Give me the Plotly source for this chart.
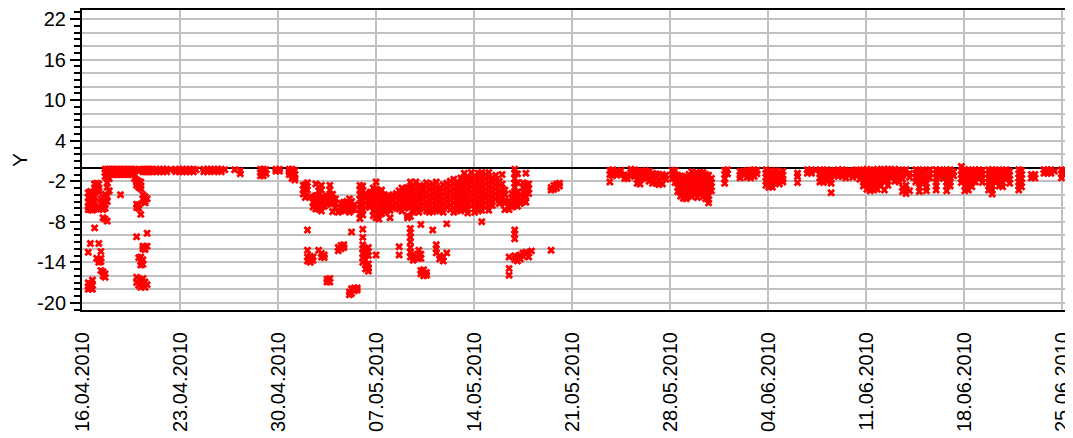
import pandas as pd
import plotly.graph_objects as go

START = "2010-04-16"

# Observations grouped by time column: (days since 16.04.2010, [Y values])
april_cols = [
    (0.45, [-3.7, -4.4, -5.1, -5.8, -6.2, -12.5, -17.0, -17.6, -18.0]),
    (0.6, [-3.5, -4.2, -4.9, -5.6, -6.2, -11.2, -17.2, -17.8]),
    (0.75, [-3.6, -4.3, -5.0, -5.7, -6.3, -16.6, -17.4, -18.0]),
    (0.9, [-2.4, -3.0, -3.6, -4.3, -5.0, -5.7, -6.1, -8.9]),
    (1.05, [-2.3, -2.9, -3.4, -6.1, -13.4]),
    (1.2, [-2.4, -3.0, -3.4, -5.9, -11.2, -13.6, -14.0]),
    (1.35, [-4.6, -5.3, -12.4, -13.4, -13.9, -15.2]),
    (1.5, [-4.3, -5.0, -5.6, -6.2, -7.4, -15.4, -16.0]),
    (1.65, [-0.2, -0.7, -1.3, -3.9, -4.8, -5.4, -6.0, -7.6, -15.7, -16.2]),
    (1.8, [-0.2, -0.6, -1.0, -1.6, -2.2, -2.9, -4.2, -5.0, -7.9]),
    (1.95, [-0.2, -0.6, -1.0, -1.6, -3.4]),
    (2.15, [-0.2, -0.6, -1.0]),
    (2.35, [-0.2, -0.6, -1.0]),
    (2.55, [-0.2, -0.6, -1.0]),
    (2.75, [-0.2, -0.6, -1.0, -4.0]),
    (2.95, [-0.2, -0.6, -1.0]),
    (3.15, [-0.2, -0.6, -1.0]),
    (3.35, [-0.2, -0.6, -1.0]),
    (3.55, [-0.2, -0.6, -1.0]),
    (3.75, [-0.2, -0.6, -1.0, -1.6]),
    (3.9, [-0.3, -1.8, -2.2, -2.6, -5.4, -5.9, -10.2, -16.2, -17.0]),
    (4.05, [-0.3, -2.0, -2.5, -2.9, -5.5, -6.0, -13.3, -16.5, -17.4]),
    (4.2, [-0.3, -2.1, -2.7, -3.1, -6.9, -13.2, -13.9, -14.4, -16.9, -17.7]),
    (4.35, [-0.2, -0.6, -4.0, -4.6, -11.6, -12.0, -13.6, -14.3, -16.4, -17.5]),
    (4.5, [-0.2, -0.6, -4.3, -5.0, -5.2, -11.7, -12.1, -16.9, -17.7]),
    (4.65, [-0.2, -0.6, -4.6, -9.7, -11.6, -17.3]),
    (4.85, [-0.2, -0.6]),
    (5.05, [-0.2, -0.6]),
    (5.3, [-0.2, -0.6]),
    (5.55, [-0.2, -0.6]),
    (5.8, [-0.2, -0.6]),
    (6.05, [-0.2, -0.6]),
    (6.3, [-0.3]),
    (6.7, [-0.2, -0.6]),
    (6.95, [-0.2, -0.6]),
    (7.2, [-0.2, -0.6]),
    (7.45, [-0.2, -0.6]),
    (7.7, [-0.2, -0.6]),
    (7.95, [-0.2, -0.6]),
    (8.15, [-0.3]),
    (8.7, [-0.2, -0.6]),
    (8.95, [-0.2, -0.6]),
    (9.2, [-0.2, -0.5]),
    (9.45, [-0.2, -0.6]),
    (9.7, [-0.2, -0.5]),
    (9.95, [-0.2, -0.6]),
    (10.2, [-0.3]),
    (10.9, [-0.3]),
    (11.3, [-0.4, -0.9]),
    (12.75, [-0.2, -0.7, -1.2]),
    (12.95, [-0.2, -0.7, -1.2]),
    (13.15, [-0.3, -0.9]),
    (13.85, [-0.2, -0.5]),
    (14.1, [-0.2, -0.5]),
    (14.8, [-0.2, -0.6, -1.0]),
    (15.0, [-0.2, -0.6, -1.1, -1.6]),
    (15.2, [-0.4, -1.0, -1.5, -1.8]),
]

may_cols = [
    (15.8, [-2.6, -3.2, -3.9]),
    (15.95, [-2.5, -3.0, -3.7, -4.4]),
    (16.1, [-2.2, -3.3, -9.2, -12.2, -13.2, -13.8]),
    (16.3, [-4.3, -13.1, -13.7, -14.0]),
    (16.5, [-4.4, -5.1, -5.8, -13.2, -13.7]),
    (16.7, [-2.4, -4.1, -4.8, -5.5, -6.1]),
    (16.9, [-3.4, -4.2, -4.9, -5.5, -6.1, -12.2]),
    (17.1, [-2.6, -3.3, -4.4, -5.1, -5.8, -6.4, -12.7, -13.2]),
    (17.3, [-4.4, -5.1, -5.7, -12.9, -13.3]),
    (17.5, [-4.2, -4.8, -5.4, -16.5, -16.9]),
    (17.7, [-2.6, -3.3, -4.1, -4.7, -5.3, -16.4, -16.9]),
    (17.9, [-3.9, -4.6, -5.2, -6.5]),
    (18.1, [-4.6, -5.2, -5.9]),
    (18.3, [-6.6, -11.8, -12.3]),
    (18.5, [-5.3, -5.9, -6.4, -11.5, -12.0]),
    (18.7, [-5.1, -5.7, -6.3, -11.4, -11.8]),
    (18.9, [-5.0, -5.6, -6.2]),
    (19.1, [-4.6, -5.3, -6.0, -6.6, -18.4, -18.8]),
    (19.25, [-5.0, -5.7, -6.3, -9.5, -17.9, -18.6]),
    (19.45, [-5.5, -6.2, -17.8, -18.2]),
    (19.65, [-17.8, -18.1]),
    (19.85, [-2.6, -3.3, -4.0, -4.7, -5.4, -6.1, -6.8, -7.5]),
    (20.05, [-2.7, -3.4, -4.1, -4.8, -5.5, -6.2, -7.0, -9.1, -10.3, -11.4, -12.0, -12.7, -13.3, -14.0]),
    (20.25, [-3.8, -4.5, -5.2, -5.9, -12.2, -12.9, -13.6, -14.3, -15.0]),
    (20.45, [-11.8, -12.4, -13.0, -14.2, -14.9, -15.3]),
    (20.6, [-3.6, -4.3, -5.0, -5.7]),
    (20.8, [-3.0, -3.6, -4.3, -5.0, -5.7, -6.4, -7.1]),
    (21.0, [-2.1, -3.2, -3.9, -4.6, -5.3, -6.0, -6.7, -7.4, -12.9]),
    (21.2, [-3.5, -4.2, -4.9, -5.6, -6.3, -7.0, -7.6]),
    (21.4, [-3.3, -4.0, -4.7, -5.4, -6.1, -6.8]),
    (21.6, [-4.0, -4.7, -5.4, -6.1, -6.6]),
    (21.8, [-4.2, -4.9, -5.6, -6.3]),
    (22.0, [-4.3, -5.0, -5.7, -6.3, -7.4]),
    (22.2, [-4.0, -4.7, -5.4, -6.0]),
    (22.45, [-3.8, -4.5, -5.2, -5.9]),
    (22.65, [-3.4, -4.1, -4.8, -5.5, -6.1, -11.7, -12.9]),
    (22.85, [-3.0, -3.7, -4.4, -5.1, -5.8, -6.4]),
    (23.05, [-3.2, -3.9, -4.6, -5.3, -6.0]),
    (23.25, [-2.9, -3.6, -4.3, -5.0, -5.7, -7.1, -7.4]),
    (23.45, [-2.1, -3.0, -3.7, -4.4, -5.1, -5.8, -7.2, -9.0, -9.6, -10.3, -11.0, -11.8, -12.5, -13.2]),
    (23.65, [-2.8, -3.5, -4.2, -4.9, -5.6, -6.2, -6.6, -12.8, -13.3, -13.7]),
    (23.85, [-2.1, -3.3, -4.0, -4.7, -5.4, -6.1]),
    (24.05, [-3.0, -3.7, -4.4, -5.1, -5.8, -6.6, -12.2, -12.8, -13.4]),
    (24.2, [-2.7, -3.5, -4.3, -5.0, -5.8, -8.4, -12.8, -13.4, -15.2, -15.7]),
    (24.4, [-2.6, -3.3, -4.0, -4.7, -5.4, -6.1, -15.1, -15.6, -16.0]),
    (24.6, [-2.2, -2.9, -3.6, -4.3, -5.0, -5.7, -6.4, -15.5, -15.9]),
    (24.8, [-2.6, -3.3, -4.0, -4.7, -5.4, -6.1, -6.6]),
    (25.05, [-2.4, -3.1, -3.8, -4.5, -5.2, -5.9, -6.5, -9.2]),
    (25.3, [-2.1, -2.8, -3.5, -4.2, -4.9, -5.6, -6.3, -11.4, -12.0, -12.6]),
    (25.55, [-2.9, -3.6, -4.3, -5.0, -5.7, -6.4, -13.0, -13.5]),
    (25.8, [-2.5, -3.2, -3.9, -4.6, -5.3, -6.0, -6.6, -13.2, -13.8]),
    (26.05, [-2.3, -3.0, -3.7, -4.4, -5.1, -5.8, -8.3, -12.6]),
    (26.3, [-2.0, -2.7, -3.4, -4.1, -4.8, -5.5, -6.2]),
    (26.55, [-1.7, -2.4, -3.1, -3.8, -4.5, -5.2, -5.9, -6.6]),
    (26.8, [-2.1, -2.8, -3.5, -4.2, -4.9, -5.6, -6.3]),
    (27.05, [-1.5, -2.2, -2.9, -3.6, -4.3, -5.0, -5.7, -6.4]),
    (27.3, [-0.8, -1.4, -2.1, -2.8, -3.5, -4.2, -4.9, -5.6, -6.2]),
    (27.55, [-1.3, -2.0, -2.7, -3.4, -4.1, -4.8, -5.5, -6.2, -6.7]),
    (27.8, [-0.7, -1.4, -2.1, -2.8, -3.5, -4.2, -4.9, -5.6]),
    (28.05, [-1.2, -1.9, -2.6, -3.3, -4.0, -4.7, -5.4, -6.1, -6.6]),
    (28.3, [-0.8, -1.5, -2.2, -2.9, -3.6, -4.3, -5.0, -5.7, -6.4]),
    (28.55, [-0.7, -1.4, -2.1, -2.8, -3.5, -4.2, -4.9, -5.6, -6.3, -8.0]),
    (28.8, [-1.0, -1.7, -2.4, -3.1, -3.8, -4.5, -5.2, -5.9]),
    (29.05, [-0.7, -1.4, -2.1, -2.8, -3.5, -4.2, -4.9, -5.6, -6.3]),
    (29.3, [-1.5, -2.2, -2.9, -3.6, -4.3, -5.0, -5.6]),
    (29.55, [-1.1, -1.8, -2.5, -3.2, -3.9, -4.6]),
    (29.8, [-2.0, -2.7, -3.4, -4.1, -4.8, -5.3]),
    (30.0, [-1.0, -2.4, -3.1, -3.8, -4.4, -4.9]),
    (30.2, [-3.3, -4.0, -4.8, -5.3, -6.2]),
    (30.5, [-4.9, -5.6, -6.2, -13.2, -14.9, -15.9]),
    (30.7, [-3.8, -4.5, -5.2, -5.8]),
    (30.9, [-0.2, -0.8, -1.6, -2.3, -2.9, -3.6, -4.3, -5.0, -5.6, -9.2, -9.8, -10.5, -13.0, -13.6]),
    (31.1, [-0.9, -2.2, -3.6, -4.3, -5.0, -5.7, -13.2, -13.8]),
    (31.3, [-4.0, -4.7, -5.3, -12.9, -13.5]),
    (31.5, [-2.2, -2.9, -3.6, -4.3, -5.0, -12.6, -13.1]),
    (31.7, [-0.8, -2.4, -3.1, -3.8, -4.3, -5.1, -12.5]),
    (31.9, [-2.4, -3.1, -3.8, -12.6, -13.2]),
    (32.1, [-12.3]),
    (33.5, [-2.9, -3.3, -12.2]),
    (33.7, [-2.6, -3.2]),
    (33.9, [-2.4, -3.0]),
    (34.1, [-2.3, -2.7]),
]

june_cols = [
    (37.7, [-0.4, -1.0, -2.1]),
    (37.9, [-0.3, -0.9, -1.2]),
    (38.2, [-0.5, -1.1]),
    (38.5, [-0.4, -1.0]),
    (38.75, [-1.1, -1.6]),
    (38.95, [-1.1, -1.6]),
    (39.2, [-0.2, -0.7, -1.2]),
    (39.45, [-0.3, -0.8, -1.3]),
    (39.65, [-0.5, -1.1, -1.7, -2.3]),
    (39.85, [-0.6, -1.2, -1.8, -2.4]),
    (40.05, [-0.5, -1.1, -1.6]),
    (40.25, [-0.4, -0.9, -1.4]),
    (40.5, [-0.5, -1.0, -1.5, -2.0]),
    (40.75, [-0.8, -1.3, -1.8, -2.3]),
    (41.0, [-0.9, -1.5, -2.3]),
    (41.2, [-1.0, -1.8, -2.5]),
    (41.45, [-1.0, -1.5, -2.4]),
    (41.7, [-1.1, -1.7]),
    (42.15, [-0.4, -1.0, -1.6]),
    (42.35, [-0.4, -1.0, -1.6, -2.2]),
    (42.55, [-1.1, -1.7, -2.3, -2.9, -3.5]),
    (42.75, [-1.2, -1.8, -2.4, -3.0, -3.6, -4.2]),
    (42.95, [-1.5, -2.1, -2.7, -3.3, -3.9, -4.5]),
    (43.15, [-1.3, -1.9, -2.5, -3.1, -3.7, -4.3, -4.6]),
    (43.35, [-1.0, -1.6, -2.2, -2.8, -3.4, -4.0]),
    (43.55, [-0.6, -1.2, -1.8, -2.4, -3.0, -3.6, -4.3]),
    (43.75, [-0.9, -1.5, -2.1, -2.7, -3.3, -3.9]),
    (43.95, [-0.8, -1.4, -2.0, -2.6, -3.2, -3.8, -4.4]),
    (44.15, [-0.7, -1.3, -1.9, -2.5, -3.1, -3.7]),
    (44.35, [-0.7, -1.3, -1.9, -2.5, -3.1, -3.7, -4.3]),
    (44.55, [-1.0, -1.6, -2.2, -2.8, -3.4, -4.0, -4.6]),
    (44.75, [-1.1, -1.7, -2.3, -2.9, -3.5, -4.1, -4.7, -5.2]),
    (44.95, [-1.6, -2.2, -2.8, -3.4]),
    (45.9, [-0.4, -1.0, -1.6, -2.3]),
    (46.1, [-0.3, -0.9]),
    (47.0, [-0.5, -1.1, -1.5]),
    (47.25, [-0.5, -1.0]),
    (47.5, [-0.4, -0.9, -1.4]),
    (47.75, [-0.4, -1.0, -1.5]),
    (48.0, [-0.3, -0.8, -1.3]),
    (48.2, [-0.4, -0.9]),
    (48.85, [-0.3, -0.8, -1.4, -2.0, -2.6]),
    (49.05, [-0.5, -1.1, -1.7, -2.3, -2.9]),
    (49.3, [-0.6, -1.2, -1.8, -2.4, -2.9]),
    (49.55, [-0.4, -1.0, -1.6, -2.2]),
    (49.8, [-0.7, -1.3, -1.9, -2.4]),
    (50.05, [-0.5, -1.1, -1.7, -2.1]),
    (51.1, [-0.8, -1.3, -2.2]),
    (51.8, [-0.3, -0.8]),
    (52.1, [-0.3, -0.8]),
    (52.4, [-0.4]),
    (52.7, [-0.3, -0.9, -1.5, -2.1]),
    (52.95, [-0.4, -1.0, -1.6, -2.2]),
    (53.2, [-0.3, -0.9, -1.5, -2.0]),
    (53.5, [-0.5, -1.1, -1.7, -2.3, -3.7]),
    (53.75, [-0.4, -1.0]),
    (54.0, [-0.3, -0.8, -1.3]),
    (54.3, [-0.3, -0.8, -1.3]),
    (54.55, [-0.4, -1.0, -1.5]),
    (54.8, [-0.5, -1.1]),
    (55.05, [-0.4, -0.9, -1.4]),
    (55.3, [-0.3, -0.8, -1.2]),
    (55.55, [-0.5, -1.1, -1.7]),
    (55.8, [-0.3, -0.9, -1.5, -2.1, -2.7]),
    (56.05, [-0.2, -0.8, -1.4, -2.0, -2.6, -3.2]),
    (56.3, [-0.4, -1.0, -1.6, -2.2, -2.8, -3.4]),
    (56.55, [-0.3, -0.9, -1.5, -2.1, -2.7, -3.3]),
    (56.8, [-0.2, -0.8, -1.4, -2.0, -2.6, -3.2]),
    (57.05, [-0.3, -0.9, -1.5, -2.1, -2.7]),
    (57.3, [-0.2, -0.8, -1.4, -2.0, -3.3]),
    (57.55, [-0.2, -0.8, -1.4, -2.0, -2.6]),
    (57.8, [-0.3, -0.9, -1.5]),
    (58.05, [-0.2, -0.8, -1.4, -2.0]),
    (58.35, [-0.3, -0.9, -1.5, -2.1]),
    (58.6, [-0.5, -1.1, -1.7, -2.9, -3.5]),
    (58.85, [-0.3, -0.9, -2.6, -3.2, -3.8]),
    (59.1, [-0.8, -1.4, -3.4]),
    (59.55, [-0.3, -0.9, -1.5, -2.1]),
    (59.8, [-0.5, -1.1, -1.7, -2.3, -2.9, -3.5]),
    (60.05, [-0.3, -0.9, -1.5, -2.1]),
    (60.3, [-0.5, -1.1, -1.7, -2.3, -2.9, -3.4]),
    (60.55, [-0.3, -0.9, -1.5]),
    (61.0, [-0.3, -0.9, -1.5, -2.1, -2.7, -3.3]),
    (61.25, [-0.3, -0.8, -1.3]),
    (61.5, [-0.4, -1.0, -1.6]),
    (61.75, [-0.3, -0.9, -1.5, -2.1, -2.7, -3.4]),
    (62.0, [-0.3, -0.9, -1.5, -2.1, -2.7]),
    (62.25, [-0.6, -1.2]),
    (62.8, [0.2, -0.4, -1.0, -1.6, -2.2]),
    (63.05, [-0.3, -0.9, -1.5, -2.1, -2.7, -3.4]),
    (63.3, [-0.3, -0.9, -1.5, -2.1, -2.7, -3.3]),
    (63.55, [-0.4, -1.0, -1.6, -2.2, -2.8]),
    (63.8, [-0.3, -0.9, -1.5, -2.1]),
    (64.05, [-0.3, -0.9, -1.5]),
    (64.3, [-0.4, -1.0, -1.6, -2.2]),
    (64.75, [-0.3, -0.9, -1.5, -2.1, -2.7, -3.3]),
    (65.0, [-0.3, -0.9, -1.5, -2.1, -2.7, -3.3, -3.9]),
    (65.25, [-0.4, -1.0, -1.6, -2.2]),
    (65.5, [-0.3, -0.9, -1.5, -2.1, -2.7]),
    (65.75, [-0.4, -1.0, -1.6, -2.2, -2.8]),
    (66.0, [-0.3, -0.9, -1.5]),
    (66.25, [-0.5, -1.1, -1.7, -2.3]),
    (66.9, [-0.3, -0.9, -1.5, -2.1, -2.7, -3.3]),
    (67.1, [-0.4, -1.0, -1.6, -2.2, -2.8]),
    (67.8, [-1.0, -1.5]),
    (68.05, [-1.0, -1.5]),
    (68.7, [-0.3, -0.8]),
    (68.95, [-0.3, -0.8]),
    (69.2, [-0.3, -0.8]),
    (69.45, [-0.5]),
    (69.95, [-0.3, -0.9, -1.5]),
    (70.2, [-0.5, -1.1]),
]

x_tick_labels = ["16.04.2010", "23.04.2010", "30.04.2010", "07.05.2010", "14.05.2010", "21.05.2010",
                 "28.05.2010", "04.06.2010", "11.06.2010", "18.06.2010", "25.06.2010"]
y_tick_vals = [-20, -14, -8, -2, 4, 10, 16, 22]
y_tick_text = ["-20", "-14", "-8", "-2", "4", "10", "16", "22"]
y_range = [-21.05, 23.35]
x_range_days = [0.0, 70.63]

# flatten
t0 = pd.Timestamp(START)
xs, ys = [], []
for cols in (april_cols, may_cols, june_cols):
    for d, vals in cols:
        for v in vals:
            xs.append(t0 + pd.to_timedelta(d, unit="D"))
            ys.append(v)

x_tick_vals = [pd.to_datetime(s, format="%d.%m.%Y") for s in x_tick_labels]

FONT = "Liberation Sans, Arial, sans-serif"
GRID = "#c0c0c0"

fig = go.Figure()
fig.add_trace(go.Scatter(
    x=xs, y=ys, mode="markers",
    marker=dict(symbol="x", size=7, color="#ff0000", line=dict(width=0)),
    showlegend=False, hoverinfo="skip",
))
# invisible trace on overlay axis to carry the 2-unit horizontal grid
fig.add_trace(go.Scatter(x=[xs[0]], y=[0], yaxis="y2", mode="markers",
                         marker=dict(opacity=0), showlegend=False, hoverinfo="skip"))

# the page body has an 8px default margin, so the figure is shrunk by 8px
fig.update_layout(
    width=1065, height=430,
    margin=dict(l=74, r=0, t=2, b=128),
    paper_bgcolor="white", plot_bgcolor="white",
    font=dict(family=FONT, size=20, color="black"),
    xaxis=dict(
        type="date",
        range=[t0 + pd.to_timedelta(x_range_days[0], unit="D"),
               t0 + pd.to_timedelta(x_range_days[1], unit="D")],
        tickvals=x_tick_vals, ticktext=x_tick_labels, tickangle=-90,
        ticks="", ticklabelstandoff=12, ticklabeloverflow="allow",
        showgrid=True, gridcolor=GRID, gridwidth=2,
        showline=True, linecolor="black", linewidth=2, mirror=True,
        zeroline=False,
        tickfont=dict(family=FONT, size=20, color="black"),
    ),
    yaxis=dict(
        range=y_range,
        tickvals=y_tick_vals, ticktext=y_tick_text,
        ticks="outside", ticklen=10, tickwidth=1.5, tickcolor="black",
        minor=dict(dtick=1, tick0=0, ticks="outside", ticklen=6, tickwidth=1.5,
                   tickcolor="black", showgrid=False),
        showgrid=False,
        showline=True, linecolor="black", linewidth=2, mirror=False,
        zeroline=True, zerolinecolor="black", zerolinewidth=2,
        title=dict(text="Y", standoff=14, font=dict(family=FONT, size=21, color="black")),
        tickfont=dict(family=FONT, size=20, color="black"),
    ),
    yaxis2=dict(
        overlaying="y", range=y_range, tick0=0, dtick=2,
        showgrid=True, gridcolor=GRID, gridwidth=2,
        showticklabels=False, ticks="", zeroline=False, showline=False,
    ),
)

fig.write_html("out.html")
